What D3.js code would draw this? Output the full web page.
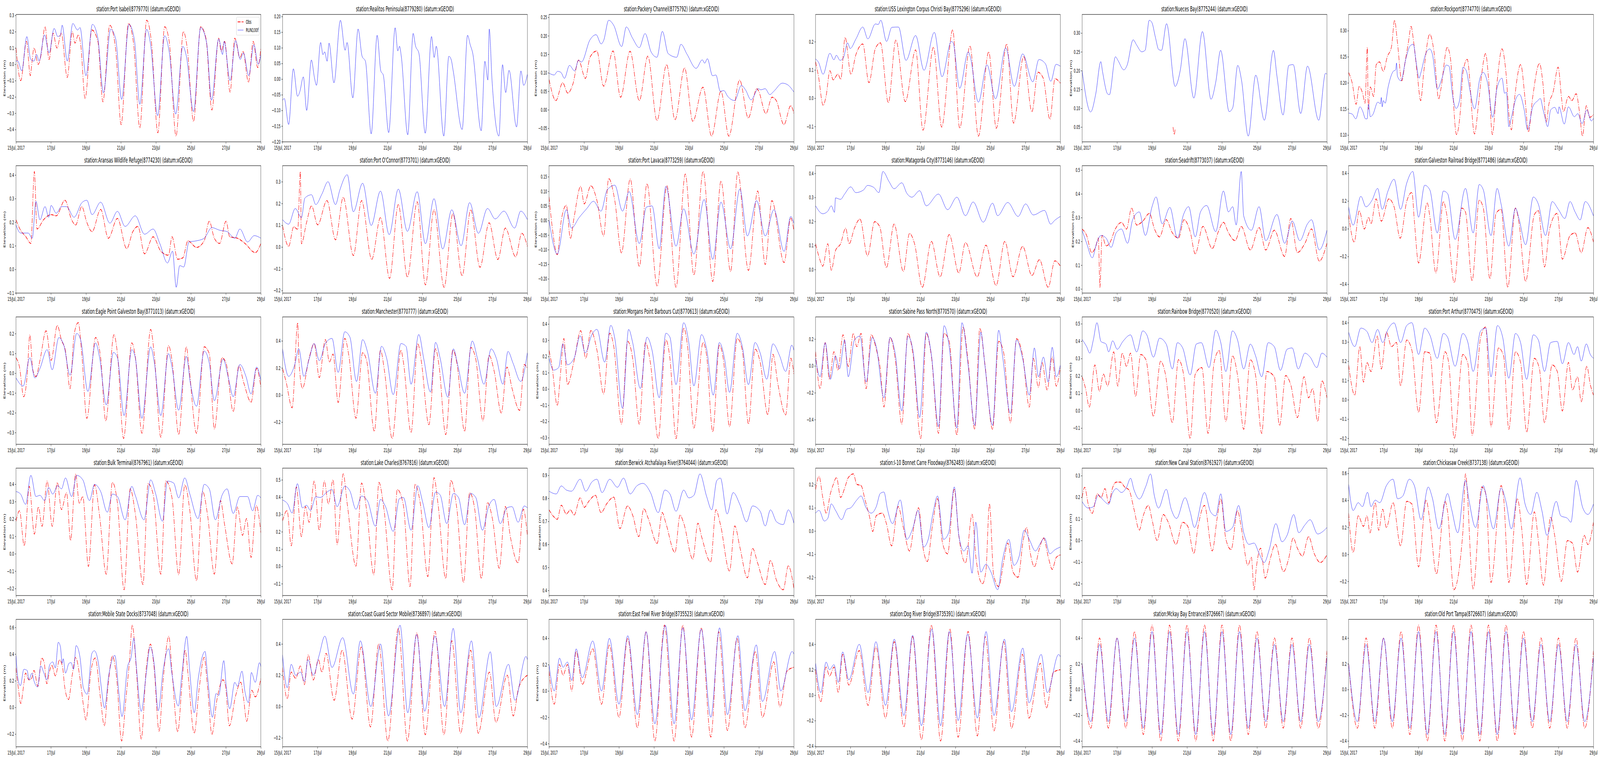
<!DOCTYPE html>
<html><head><meta charset="utf-8">
<script src="https://cdn.jsdelivr.net/npm/d3@7"></script>
<style>
html,body{margin:0;padding:0;background:#fff;overflow:hidden;width:100%;height:100%;}
#chart{position:absolute;left:0;top:0;display:block;width:100vw;height:100vh;}
svg text{font-family:"DejaVu Sans",sans-serif;fill:#000;}
</style></head><body>
<svg id="chart" viewBox="0 0 7800 1950" preserveAspectRatio="none"></svg>
<script>
// ---------------- data ----------------
const seriesNames = ["Obs", "RUN100f"];
const startDay = Date.UTC(2017, 6, 15);
const endDay = Date.UTC(2017, 6, 29);
const xTickDays = [0, 2, 4, 6, 8, 10, 12, 14];

const stationTitles = [
 "station:Port Isabel(8779770) (datum:xGEOID)",
 "station:Realitos Peninsula(8779280) (datum:xGEOID)",
 "station:Packery Channel(8775792) (datum:xGEOID)",
 "station:USS Lexington Corpus Christi Bay(8775296) (datum:xGEOID)",
 "station:Nueces Bay(8775244) (datum:xGEOID)",
 "station:Rockport(8774770) (datum:xGEOID)",
 "station:Aransas Wildlife Refuge(8774230) (datum:xGEOID)",
 "station:Port O'Connor(8773701) (datum:xGEOID)",
 "station:Port Lavaca(8773259) (datum:xGEOID)",
 "station:Matagorda City(8773146) (datum:xGEOID)",
 "station:Seadrift(8773037) (datum:xGEOID)",
 "station:Galveston Railroad Bridge(8771486) (datum:xGEOID)",
 "station:Eagle Point Galveston Bay(8771013) (datum:xGEOID)",
 "station:Manchester(8770777) (datum:xGEOID)",
 "station:Morgans Point Barbours Cut(8770613) (datum:xGEOID)",
 "station:Sabine Pass North(8770570) (datum:xGEOID)",
 "station:Rainbow Bridge(8770520) (datum:xGEOID)",
 "station:Port Arthur(8770475) (datum:xGEOID)",
 "station:Bulk Terminal(8767961) (datum:xGEOID)",
 "station:Lake Charles(8767816) (datum:xGEOID)",
 "station:Berwick Atchafalaya River(8764044) (datum:xGEOID)",
 "station:I-10 Bonnet Carre Floodway(8762483) (datum:xGEOID)",
 "station:New Canal Station(8761927) (datum:xGEOID)",
 "station:Chickasaw Creek(8737138) (datum:xGEOID)",
 "station:Mobile State Docks(8737048) (datum:xGEOID)",
 "station:Coast Guard Sector Mobile(8736897) (datum:xGEOID)",
 "station:East Fowl River Bridge(8735523) (datum:xGEOID)",
 "station:Dog River Bridge(8735391) (datum:xGEOID)",
 "station:Mckay Bay Entrance(8726667) (datum:xGEOID)",
 "station:Old Port Tampa(8726607) (datum:xGEOID)"
];
const yTickSteps = [0.1,0.05,0.05,0.1,0.05,0.05, 0.1,0.1,0.05,0.1,0.1,0.2, 0.1,0.2,0.1,0.2,0.1,0.1, 0.1,0.1,0.1,0.1,0.1,0.2, 0.2,0.2,0.2,0.2,0.2,0.2];

// [day since 15 Jul 2017, elevation m]
const obs_8779770 = [[0,0.10],[0.27,-0.10],[0.6,0.14],[0.82,-0.07],[0.9,0.0],[1.03,0.10],[1.27,0.0],[1.42,0.05],[1.66,0.23],[1.89,0.03],[2.12,0.19],[2.34,0.10],[2.59,0.19],[2.93,-0.08],[3.22,0.20],[3.37,0.13],[3.56,0.18],[3.7,0.12],[3.95,-0.21],[4.34,0.21],[4.68,0.14],[4.97,-0.23],[5.36,0.24],[5.70,0.09],[6.01,-0.37],[6.43,0.25],[6.72,0.13],[7.08,-0.39],[7.47,0.27],[7.74,0.14],[8.11,-0.42],[8.50,0.23],[8.76,0.14],[9.15,-0.44],[9.57,0.20],[9.79,0.10],[10.15,-0.35],[10.56,0.23],[10.86,0.16],[11.2,-0.28],[11.59,0.16],[11.73,0.08],[11.93,0.14],[12.24,-0.17],[12.51,0.16],[12.80,0.04],[12.98,0.08],[13.29,-0.11],[13.56,0.14],[13.82,-0.02],[14,0.10]];
const mod_8779770 = [[0,0.02],[0.1,0.02],[0.33,-0.04],[0.62,0.17],[0.84,0.03],[1.03,0.02],[1.18,0.06],[1.32,0.02],[1.63,0.18],[1.89,0.07],[2.18,0.22],[2.39,0.17],[2.54,0.18],[2.64,0.24],[2.93,0.02],[3.25,0.25],[3.52,0.21],[3.66,0.225],[4.0,-0.07],[4.37,0.245],[4.68,0.16],[5.0,-0.175],[5.41,0.215],[5.70,0.155],[6.04,-0.215],[6.46,0.245],[6.77,0.15],[7.08,-0.245],[7.47,0.215],[7.69,0.125],[8.10,-0.315],[8.50,0.175],[8.76,0.075],[9.13,-0.305],[9.54,0.11],[9.74,0.05],[10.15,-0.29],[10.56,0.225],[10.90,0.13],[11.18,-0.22],[11.59,0.155],[11.81,0.06],[11.9,0.14],[12.24,-0.10],[12.56,0.145],[12.82,0.03],[13.0,0.07],[13.31,-0.07],[13.6,0.12],[13.85,0.0],[14,0.06]];

const obs_8779280 = [];
const mod_8779280 = [[0,-0.068],[0.1,-0.062],[0.35,-0.145],[0.62,0.033],[0.86,-0.055],[0.99,-0.04],[1.19,0.007],[1.38,-0.10],[1.65,0.061],[1.83,0.003],[1.94,-0.02],[2.18,0.117],[2.31,0.078],[2.41,0.087],[2.55,0.057],[2.66,0.115],[2.94,-0.012],[3.31,0.188],[3.58,0.092],[3.69,0.117],[4.02,-0.06],[4.32,0.16],[4.55,0.073],[4.74,0.057],[5.07,-0.175],[5.41,0.14],[5.62,0.026],[5.76,0.013],[6.07,-0.171],[6.44,0.164],[6.59,0.09],[6.69,0.105],[6.79,0.073],[7.16,-0.178],[7.47,0.146],[7.60,0.107],[7.80,0.082],[8.16,-0.173],[8.52,0.136],[8.67,0.069],[8.79,0.105],[9.22,-0.182],[9.51,0.073],[9.64,0.063],[9.76,0.026],[10.27,-0.161],[10.58,0.14],[10.73,0.11],[10.87,0.084],[11.36,-0.165],[11.57,0.057],[11.74,-0.003],[11.82,0.16],[11.98,-0.005],[12.37,-0.182],[12.58,0.046],[12.76,-0.043],[12.95,0.028],[13.38,-0.153],[13.63,0.026],[13.79,-0.02],[14,0.015]];

const obs_8775792 = [[0,0.082],[0.39,0.025],[0.78,0.073],[1.07,0.045],[1.36,0.069],[1.69,0.134],[2.08,0.085],[2.34,0.142],[2.73,0.159],[3.12,0.064],[3.66,0.159],[4.09,0.034],[4.63,0.158],[5.16,0.025],[5.65,0.145],[6.17,-0.029],[6.72,0.122],[7.20,-0.027],[7.75,0.113],[8.22,-0.031],[8.80,0.061],[9.29,-0.071],[9.83,0.05],[10.28,-0.071],[10.90,0.08],[11.39,-0.022],[11.88,0.057],[11.97,0.052],[12.40,-0.01],[12.75,0.034],[12.99,0.025],[13.43,-0.04],[13.82,0.011],[14,-0.01]];
const mod_8775792 = [[0,0.099],[0.29,0.094],[0.49,0.104],[0.68,0.101],[0.88,0.085],[1.17,0.12],[1.46,0.105],[1.69,0.134],[1.85,0.129],[2.34,0.189],[2.69,0.203],[2.98,0.178],[3.12,0.187],[3.41,0.242],[3.70,0.228],[4.15,0.171],[4.42,0.224],[4.77,0.194],[5.16,0.168],[5.49,0.206],[5.84,0.156],[6.17,0.142],[6.48,0.212],[6.81,0.152],[7.30,0.142],[7.54,0.177],[7.89,0.15],[8.41,0.112],[8.76,0.135],[8.90,0.126],[9.05,0.138],[9.35,0.092],[9.54,0.094],[9.79,0.05],[9.99,0.052],[10.22,0.036],[10.61,0.025],[11.0,0.066],[11.23,0.054],[11.55,0.027],[11.97,0.057],[12.11,0.054],[12.36,0.057],[12.62,0.041],[12.85,0.05],[13.34,0.072],[13.63,0.068],[14,0.048]];

const obs_8775296 = [[0,0.129],[0.17,0.076],[0.43,-0.025],[0.60,0.007],[0.82,0.097],[1.01,0.065],[1.28,0.085],[1.44,0.067],[1.69,0.215],[2.02,0.085],[2.31,0.155],[2.70,0.192],[3.05,0.055],[3.42,0.176],[3.71,0.196],[4.16,-0.016],[4.59,0.206],[5.13,-0.012],[5.72,0.171],[6.14,-0.113],[6.74,0.18],[7.21,-0.102],[7.84,0.242],[8.24,-0.106],[8.83,0.185],[9.31,-0.134],[9.90,0.164],[10.33,-0.106],[10.93,0.192],[11.32,-0.088],[11.90,0.148],[12.37,-0.048],[12.71,0.092],[13.01,0.072],[13.40,-0.074],[13.69,0.069],[14,0.053]];
const mod_8775296 = [[0,0.139],[0.17,0.127],[0.43,0.085],[0.82,0.159],[1.05,0.136],[1.19,0.152],[1.40,0.134],[1.59,0.143],[1.83,0.196],[1.98,0.176],[2.31,0.21],[2.70,0.252],[2.99,0.21],[3.42,0.263],[3.58,0.261],[3.73,0.276],[4.06,0.201],[4.36,0.251],[4.74,0.252],[5.17,0.134],[5.72,0.222],[6.20,0.099],[6.79,0.233],[7.23,0.076],[7.76,0.201],[7.86,0.197],[8.24,0.035],[8.73,0.164],[8.83,0.15],[9.31,-0.014],[9.80,0.118],[10.29,-0.002],[10.87,0.178],[11.36,0.042],[11.84,0.157],[12.42,0.058],[12.77,0.137],[13.14,0.122],[13.45,0.06],[13.75,0.12],[14,0.113]];

const obs_8775244 = [[5.2,0.05],[5.27,0.03],[5.32,0.045]];
const mod_8775244 = [[0,0.20],[0.49,0.09],[0.78,0.138],[1.07,0.224],[1.17,0.197],[1.46,0.138],[1.56,0.136],[1.91,0.237],[2.04,0.228],[2.39,0.202],[2.57,0.214],[2.92,0.282],[3.12,0.268],[3.41,0.25],[3.60,0.254],[3.84,0.334],[3.99,0.328],[4.19,0.289],[4.38,0.256],[4.54,0.254],[4.83,0.325],[5.32,0.158],[5.61,0.20],[5.88,0.285],[6.39,0.127],[6.88,0.304],[7.37,0.124],[7.64,0.169],[7.92,0.254],[8.41,0.091],[8.61,0.101],[8.90,0.214],[9.11,0.176],[9.50,0.026],[9.93,0.188],[10.42,0.068],[10.94,0.254],[11.14,0.186],[11.49,0.082],[11.82,0.214],[12.07,0.216],[12.50,0.086],[12.89,0.212],[13.53,0.068],[13.92,0.193],[14,0.19]];

const obs_8774770 = [[0,0.22],[0.21,0.199],[0.43,0.159],[0.60,0.193],[0.80,0.18],[0.94,0.161],[1.07,0.268],[1.12,0.149],[1.24,0.192],[1.43,0.174],[1.58,0.235],[1.77,0.24],[1.98,0.222],[2.21,0.25],[2.45,0.269],[2.63,0.32],[2.79,0.278],[3.04,0.204],[3.23,0.24],[3.42,0.278],[3.57,0.308],[3.72,0.278],[3.93,0.215],[4.12,0.166],[4.30,0.222],[4.64,0.293],[4.88,0.26],[5.15,0.169],[5.27,0.187],[5.64,0.268],[5.81,0.25],[6.17,0.101],[6.39,0.146],[6.54,0.22],[6.78,0.245],[7.20,0.102],[7.41,0.154],[7.61,0.217],[7.83,0.256],[8.00,0.209],[8.22,0.101],[8.48,0.199],[8.77,0.265],[8.99,0.222],[9.21,0.124],[9.31,0.11],[9.46,0.161],[9.84,0.235],[10.09,0.169],[10.28,0.106],[10.53,0.174],[10.91,0.237],[11.11,0.199],[11.30,0.125],[11.45,0.159],[11.69,0.182],[11.98,0.23],[12.18,0.169],[12.28,0.145],[12.57,0.174],[12.76,0.166],[13.01,0.179],[13.20,0.144],[13.37,0.098],[13.59,0.156],[13.78,0.134],[14,0.139]];
const mod_8774770 = [[0,0.142],[0.21,0.14],[0.41,0.131],[0.65,0.154],[0.80,0.146],[0.97,0.131],[1.06,0.131],[1.14,0.159],[1.24,0.135],[1.38,0.139],[1.67,0.163],[1.82,0.16],[1.87,0.172],[1.92,0.154],[1.99,0.166],[2.09,0.161],[2.26,0.192],[2.55,0.222],[2.69,0.225],[2.74,0.238],[2.79,0.213],[2.99,0.204],[3.28,0.247],[3.52,0.271],[3.70,0.274],[3.86,0.24],[4.03,0.209],[4.12,0.218],[4.40,0.255],[4.64,0.265],[4.79,0.255],[5.08,0.188],[5.32,0.207],[5.58,0.234],[5.74,0.232],[5.95,0.174],[6.15,0.151],[6.34,0.166],[6.54,0.23],[6.73,0.223],[6.93,0.187],[7.20,0.15],[7.51,0.209],[7.70,0.22],[7.95,0.199],[8.24,0.134],[8.48,0.189],[8.77,0.209],[8.92,0.18],[9.02,0.182],[9.16,0.116],[9.31,0.134],[9.55,0.168],[9.77,0.178],[10.04,0.148],[10.23,0.11],[10.53,0.154],[10.82,0.166],[10.96,0.17],[11.11,0.15],[11.21,0.136],[11.38,0.116],[11.55,0.148],[11.79,0.153],[11.98,0.141],[12.03,0.154],[12.33,0.121],[12.57,0.154],[12.91,0.135],[13.10,0.141],[13.35,0.122],[13.62,0.148],[13.88,0.127],[14,0.132]];

const obs_8774230 = [[0,0.21],[0.26,0.166],[0.55,0.14],[0.85,0.11],[1.05,0.415],[1.2,0.171],[1.57,0.21],[2.01,0.232],[2.30,0.227],[2.80,0.293],[3.18,0.21],[3.41,0.188],[3.76,0.266],[4.05,0.199],[4.35,0.16],[4.84,0.254],[5.28,0.132],[5.80,0.216],[6.33,0.088],[6.68,0.16],[6.97,0.182],[7.35,0.066],[7.84,0.138],[8.28,0.077],[8.72,0.06],[8.92,0.138],[9.24,0.043],[9.54,0.049],[9.83,0.121],[10.32,0.093],[10.76,0.121],[11.05,0.204],[11.34,0.132],[11.64,0.11],[12.01,0.204],[12.22,0.138],[12.66,0.132],[13.09,0.11],[13.68,0.071],[14,0.11]];
const mod_8774230 = [[0,0.188],[0.26,0.154],[0.70,0.154],[0.93,0.132],[1.14,0.288],[1.37,0.21],[1.66,0.266],[1.87,0.221],[2.01,0.271],[2.30,0.238],[2.60,0.266],[2.89,0.266],[3.32,0.221],[3.76,0.282],[4.05,0.293],[4.35,0.232],[4.84,0.285],[5.37,0.196],[5.80,0.246],[6.24,0.182],[6.82,0.227],[7.35,0.149],[7.84,0.171],[8.22,0.11],[8.66,0.027],[8.95,0.077],[9.16,-0.076],[9.36,0.016],[9.59,0.01],[9.89,0.116],[10.32,0.121],[10.76,0.132],[11.20,0.177],[11.64,0.166],[12.07,0.16],[12.51,0.132],[12.80,0.171],[13.24,0.116],[13.62,0.143],[14,0.132]];

const obs_8773701 = [[0,0.099],[0.35,0.003],[0.64,0.093],[0.87,0.081],[1.02,0.347],[1.08,0.015],[1.37,0.111],[1.66,0.189],[2.01,0.102],[2.54,0.213],[3.03,0.033],[3.47,0.228],[4.05,-0.039],[4.52,0.213],[5.10,-0.057],[5.60,0.135],[6.12,-0.144],[6.62,0.195],[7.14,-0.138],[7.70,0.207],[8.17,-0.174],[8.66,0.171],[9.24,-0.185],[9.74,0.153],[10.27,-0.132],[10.76,0.171],[11.29,-0.093],[11.81,0.111],[12.31,-0.057],[12.74,0.087],[13.33,-0.045],[13.68,0.063],[14,0.003]];
const mod_8773701 = [[0,0.126],[0.35,0.105],[0.73,0.177],[1.08,0.135],[1.28,0.225],[1.66,0.24],[1.90,0.195],[2.25,0.243],[2.60,0.30],[3.03,0.195],[3.27,0.26],[3.70,0.332],[4.05,0.162],[4.58,0.293],[5.07,0.099],[5.60,0.257],[6.10,0.057],[6.62,0.266],[7.14,0.072],[7.70,0.254],[8.17,0.015],[8.66,0.222],[9.16,-0.009],[9.68,0.171],[10.21,0.006],[10.70,0.204],[11.20,0.063],[11.72,0.177],[12.16,0.129],[12.66,0.165],[13.27,0.087],[13.62,0.165],[14,0.126]];

const obs_8773259 = [[0,0.081],[0.17,-0.017],[0.47,-0.117],[0.70,0.001],[0.99,0.052],[1.22,-0.062],[1.43,0.01],[1.81,0.117],[2.01,0.057],[2.39,0.119],[2.74,0.068],[3.12,-0.053],[3.41,0.144],[3.76,0.068],[4.14,-0.111],[4.64,0.142],[5.16,-0.158],[5.60,0.126],[6.18,-0.225],[6.74,0.119],[7.26,-0.229],[7.79,0.159],[8.28,-0.187],[8.81,0.168],[9.36,-0.209],[9.83,0.135],[10.38,-0.175],[10.79,0.166],[11.40,-0.171],[11.93,0.101],[12.36,-0.151],[12.74,0.068],[13.44,-0.144],[13.82,0.008],[14,-0.035]];
const mod_8773259 = [[0,0.001],[0.47,-0.115],[0.99,0.037],[1.28,-0.026],[1.72,0.01],[2.16,0.041],[2.54,0.066],[2.97,0.032],[3.32,0.104],[3.76,0.121],[4.20,0.032],[4.58,0.099],[5.16,-0.079],[5.57,0.046],[5.89,0.05],[6.30,-0.097],[6.68,0.117],[7.26,-0.088],[7.70,0.04],[8.28,-0.115],[8.87,0.072],[9.36,-0.133],[9.83,0.063],[10.38,-0.097],[10.91,0.108],[11.34,-0.053],[11.87,0.068],[12.36,-0.053],[12.86,0.037],[13.44,-0.106],[13.82,0.014],[14,-0.01]];

const obs_8773146 = [[0,0.107],[0.20,0.052],[0.41,0.014],[0.70,0.107],[0.90,-0.003],[1.14,0.079],[1.43,0.107],[1.72,0.172],[1.92,0.107],[2.22,0.172],[2.54,0.21],[2.97,0.057],[3.38,0.199],[3.67,0.178],[4.05,0.008],[4.49,0.189],[5.02,-0.008],[5.37,0.15],[5.66,0.107],[6.10,-0.074],[6.62,0.117],[7.12,-0.03],[7.64,0.145],[8.19,-0.014],[8.57,0.112],[9.24,-0.03],[9.74,0.101],[10.32,-0.066],[10.82,0.117],[11.29,-0.03],[11.84,0.096],[12.37,-0.025],[12.80,0.041],[13.30,-0.074],[13.68,0.036],[14,0.014]];
const mod_8773146 = [[0,0.265],[0.41,0.232],[0.70,0.243],[0.90,0.265],[1.08,0.238],[1.14,0.298],[1.43,0.292],[1.66,0.314],[2.01,0.344],[2.30,0.32],[2.74,0.331],[2.97,0.35],[3.32,0.342],[3.62,0.32],[3.85,0.408],[4.20,0.366],[4.49,0.336],[4.93,0.361],[5.22,0.317],[5.51,0.301],[5.95,0.328],[6.33,0.265],[7.03,0.314],[7.55,0.249],[8.08,0.301],[8.57,0.224],[9.01,0.281],[9.59,0.197],[10.12,0.276],[10.41,0.224],[10.99,0.279],[11.58,0.221],[12.01,0.273],[12.45,0.227],[13.09,0.246],[13.44,0.189],[13.68,0.205],[14,0.221]];

const obs_8773037 = [[0,0.252],[0.26,0.225],[0.55,0.153],[0.79,0.181],[0.93,0.214],[1.02,0.007],[1.14,0.225],[1.37,0.181],[1.57,0.192],[1.90,0.252],[2.25,0.28],[2.54,0.252],[2.83,0.34],[3.12,0.269],[3.47,0.285],[3.85,0.318],[4.14,0.252],[4.43,0.219],[4.81,0.291],[5.16,0.236],[5.51,0.214],[5.83,0.291],[6.18,0.241],[6.47,0.148],[6.91,0.263],[7.44,0.17],[7.79,0.241],[8.08,0.28],[8.37,0.236],[8.75,0.203],[9.10,0.263],[9.62,0.164],[10.12,0.258],[10.50,0.164],[10.99,0.247],[11.58,0.137],[11.93,0.296],[12.31,0.153],[12.74,0.192],[13.12,0.252],[13.56,0.117],[14,0.192]];
const mod_8773037 = [[0,0.247],[0.26,0.192],[0.58,0.131],[0.85,0.197],[1.08,0.225],[1.37,0.214],[1.66,0.175],[1.95,0.236],[2.25,0.252],[2.60,0.192],[2.89,0.291],[3.27,0.324],[3.62,0.225],[4.00,0.346],[4.23,0.387],[4.58,0.274],[5.02,0.343],[5.45,0.214],[5.80,0.313],[6.09,0.346],[6.47,0.219],[6.77,0.324],[7.12,0.351],[7.64,0.241],[8.08,0.412],[8.37,0.324],[8.61,0.346],[8.81,0.269],[9.10,0.494],[9.24,0.307],[9.68,0.247],[10.12,0.346],[10.50,0.203],[11.14,0.313],[11.58,0.192],[12.02,0.285],[12.45,0.203],[12.89,0.274],[13.12,0.291],[13.56,0.164],[14,0.247]];

const obs_8771486 = [[0,0.102],[0.32,-0.096],[0.61,0.13],[0.90,-0.002],[1.14,0.083],[1.28,0.036],[1.57,0.215],[1.87,0.055],[2.30,0.215],[2.60,0.158],[2.95,-0.068],[3.32,0.196],[3.62,0.262],[3.76,0.055],[4.00,-0.247],[4.49,0.187],[4.64,0.092],[4.99,-0.318],[5.42,0.196],[5.60,0.111],[6.04,-0.389],[6.47,0.149],[6.68,0.121],[7.06,-0.375],[7.47,0.206],[7.70,0.149],[8.08,-0.36],[8.43,0.111],[8.72,0.14],[9.10,-0.422],[9.54,0.149],[9.74,0.045],[10.12,-0.379],[10.62,0.102],[10.85,0.13],[11.20,-0.275],[11.49,-0.002],[11.93,0.111],[12.22,-0.219],[12.66,-0.049],[12.95,-0.03],[13.30,-0.172],[13.68,0.008],[14,-0.096]];
const mod_8771486 = [[0,0.158],[0.26,0.026],[0.70,0.234],[0.99,0.158],[1.34,0.206],[1.66,0.291],[1.92,0.14],[2.25,0.272],[2.60,0.357],[2.97,0.14],[3.32,0.328],[3.67,0.413],[4.00,0.083],[4.35,0.314],[4.64,0.281],[5.07,-0.03],[5.42,0.272],[5.66,0.253],[6.09,-0.077],[6.68,0.291],[7.12,-0.03],[7.47,0.319],[7.70,0.281],[8.14,-0.049],[8.49,0.291],[8.72,0.177],[9.16,-0.125],[9.54,0.149],[9.74,0.074],[10.12,-0.115],[10.56,0.229],[10.85,0.177],[11.26,-0.049],[11.64,0.196],[11.99,0.14],[12.36,0.074],[12.66,0.196],[12.95,0.121],[13.24,0.064],[13.53,0.196],[14,0.092]];

const obs_8771013 = [[0,0.078],[0.20,0.031],[0.44,-0.119],[0.64,-0.01],[0.79,0.194],[0.96,0.017],[1.14,-0.017],[1.37,0.065],[1.72,0.214],[2.01,0.065],[2.36,0.241],[2.60,0.167],[2.83,0.112],[3.09,-0.078],[3.32,0.194],[3.56,0.255],[3.76,0.099],[4.05,-0.228],[4.55,0.18],[4.84,0.078],[5.13,-0.241],[5.60,0.194],[5.80,0.099],[6.15,-0.33],[6.62,0.153],[6.82,0.085],[7.20,-0.303],[7.70,0.221],[7.90,0.099],[8.28,-0.323],[8.72,0.139],[8.92,0.065],[9.30,-0.31],[9.74,0.133],[9.89,0.031],[10.32,-0.303],[10.76,0.133],[11.05,0.099],[11.34,-0.282],[11.78,0.078],[12.01,0.051],[12.42,-0.194],[12.74,0.037],[13.03,-0.051],[13.44,-0.146],[13.76,0.024],[14,-0.071]];
const mod_8771013 = [[0,-0.024],[0.41,-0.065],[0.79,0.078],[1.08,-0.024],[1.37,0.024],[1.78,0.119],[2.07,0.017],[2.45,0.18],[2.74,0.139],[3.09,-0.01],[3.47,0.201],[3.70,0.167],[4.11,-0.092],[4.55,0.153],[4.78,0.078],[5.16,-0.16],[5.57,0.105],[5.80,0.078],[6.18,-0.214],[6.62,0.119],[6.82,0.078],[7.20,-0.228],[7.70,0.133],[7.90,0.058],[8.28,-0.214],[8.72,0.099],[8.92,0.031],[9.30,-0.187],[9.74,0.085],[9.97,-0.051],[10.32,-0.167],[10.76,0.112],[11.05,0.051],[11.34,-0.139],[11.84,0.071],[12.16,-0.031],[12.42,-0.119],[12.80,0.044],[13.15,-0.017],[13.44,-0.105],[13.76,0.031],[14,-0.037]];

const obs_8770777 = [[0,0.196],[0.20,0.1],[0.55,-0.094],[0.87,0.534],[0.93,0.273],[1.14,0.051],[1.52,0.273],[1.81,0.38],[2.10,0.129],[2.45,0.409],[2.68,0.244],[2.89,0.302],[3.18,-0.055],[3.56,0.418],[3.79,0.293],[4.20,-0.171],[4.58,0.312],[4.81,0.254],[5.25,-0.268],[5.60,0.331],[5.83,0.177],[6.27,-0.321],[6.77,0.331],[6.91,0.244],[7.35,-0.277],[7.73,0.38],[7.93,0.254],[8.37,-0.219],[8.75,0.341],[8.95,0.215],[9.33,-0.292],[9.74,0.331],[9.97,0.235],[10.41,-0.268],[10.76,0.351],[11.05,0.264],[11.46,-0.19],[11.81,0.293],[12.10,0.177],[12.51,-0.132],[12.83,0.206],[13.12,0.051],[13.56,-0.113],[13.82,0.225],[14,0.196]];
const mod_8770777 = [[0,0.341],[0.35,0.138],[0.70,0.225],[0.93,0.341],[1.22,0.138],[1.52,0.264],[1.81,0.38],[2.10,0.254],[2.45,0.38],[2.83,0.418],[3.18,0.167],[3.56,0.467],[3.85,0.428],[4.23,0.1],[4.58,0.409],[4.87,0.312],[5.31,0.013],[5.66,0.36],[5.95,0.273],[6.33,0.003],[6.77,0.38],[7.06,0.36],[7.35,0.08],[7.79,0.447],[8.08,0.264],[8.46,0.022],[8.75,0.389],[9.01,0.273],[9.45,-0.016],[9.77,0.341],[10.03,0.215],[10.41,0.013],[10.85,0.399],[11.14,0.273],[11.52,0.08],[11.93,0.341],[12.22,0.273],[12.60,0.08],[12.89,0.322],[13.18,0.235],[13.62,0.1],[14,0.312]];

const obs_8770613 = [[0,0.238],[0.17,0.14],[0.47,-0.102],[0.64,0.076],[0.85,0.311],[1.05,0.027],[1.43,0.173],[1.81,0.359],[2.10,0.189],[2.39,0.359],[2.74,0.238],[3.12,-0.03],[3.47,0.343],[3.70,0.262],[4.14,-0.216],[4.49,0.294],[4.78,0.189],[5.16,-0.216],[5.51,0.286],[5.80,0.157],[6.24,-0.305],[6.68,0.302],[6.91,0.189],[7.26,-0.305],[7.70,0.375],[7.93,0.254],[8.28,-0.24],[8.81,0.286],[9.01,0.205],[9.36,-0.264],[9.74,0.27],[9.97,0.181],[10.32,-0.232],[10.76,0.311],[11.05,0.238],[11.40,-0.216],[11.78,0.246],[12.07,0.165],[12.51,-0.159],[12.80,0.213],[13.09,0.027],[13.53,-0.159],[13.82,0.189],[14,0.092]];
const mod_8770613 = [[0,0.189],[0.26,0.116],[0.55,0.132],[0.79,0.278],[1.05,0.149],[1.43,0.189],[1.78,0.327],[2.07,0.222],[2.45,0.335],[2.74,0.367],[3.18,0.165],[3.53,0.392],[3.76,0.311],[4.20,-0.119],[4.55,0.367],[4.78,0.286],[5.22,0.003],[5.60,0.319],[5.89,0.238],[6.30,-0.054],[6.68,0.343],[6.91,0.319],[7.26,0.027],[7.70,0.408],[7.99,0.286],[8.28,0.019],[8.72,0.335],[9.01,0.246],[9.39,-0.038],[9.74,0.286],[10.03,0.189],[10.32,-0.021],[10.76,0.343],[11.05,0.262],[11.40,0.027],[11.78,0.286],[12.07,0.222],[12.45,0.06],[12.80,0.278],[13.18,0.205],[13.53,0.108],[13.88,0.27],[14,0.238]];

const obs_8770570 = [[0,0.105],[0.26,-0.169],[0.55,0.173],[0.79,-0.10],[1.05,0.105],[1.28,-0.032],[1.57,0.232],[1.87,-0.003],[2.16,0.242],[2.36,0.144],[2.60,0.242],[2.89,-0.169],[3.18,0.232],[3.47,0.124],[3.70,-0.022],[3.91,-0.306],[4.26,0.212],[4.55,0.056],[4.93,-0.433],[5.28,0.242],[5.57,0.085],[6.01,-0.541],[6.33,0.242],[6.62,0.075],[7.03,-0.502],[7.35,0.242],[7.64,0.183],[8.08,-0.516],[8.43,0.29],[8.72,0.036],[9.10,-0.472],[9.39,0.281],[9.68,0.017],[10.12,-0.472],[10.47,0.183],[10.76,0.095],[11.14,-0.423],[11.49,0.202],[11.84,0.075],[12.22,-0.306],[12.45,0.056],[12.74,-0.159],[12.95,0.026],[13.24,-0.179],[13.53,0.066],[13.76,-0.15],[14,-0.003]];
const mod_8770570 = [[0,0.056],[0.26,-0.081],[0.55,0.173],[0.85,-0.10],[1.14,0.075],[1.37,-0.022],[1.66,0.193],[1.87,-0.081],[2.22,0.193],[2.54,0.222],[2.89,-0.12],[3.24,0.212],[3.47,0.144],[3.91,-0.238],[4.26,0.212],[4.55,0.095],[4.93,-0.335],[5.28,0.222],[5.57,0.114],[5.95,-0.384],[6.33,0.251],[6.62,0.085],[7.03,-0.453],[7.35,0.30],[7.64,0.144],[8.08,-0.463],[8.37,0.322],[8.72,0.007],[9.10,-0.443],[9.45,0.251],[9.68,0.007],[10.12,-0.443],[10.47,0.266],[10.70,0.066],[11.14,-0.355],[11.49,0.193],[11.84,0.056],[12.22,-0.218],[12.51,0.134],[12.74,-0.081],[13.03,0.066],[13.30,-0.12],[13.53,0.139],[13.76,-0.081],[14,0.007]];

const obs_8770520 = [[0,0.195],[0.20,0.127],[0.41,0.021],[0.73,0.263],[0.99,0.112],[1.22,0.21],[1.46,0.142],[1.81,0.338],[2.04,0.142],[2.30,0.331],[2.54,0.255],[2.77,0.331],[3.06,0.082],[3.35,0.323],[3.65,0.293],[4.08,-0.032],[4.49,0.285],[4.75,0.217],[5.16,-0.069],[5.51,0.293],[5.80,0.21],[6.18,-0.16],[6.47,0.21],[6.85,0.248],[7.20,-0.13],[7.55,0.278],[7.84,0.346],[8.22,-0.062],[8.60,0.315],[8.89,0.202],[9.24,-0.107],[9.62,0.293],[9.92,0.202],[10.27,-0.13],[10.56,0.225],[10.99,0.195],[11.29,-0.085],[11.64,0.202],[11.93,0.149],[12.31,-0.039],[12.69,0.195],[12.95,0.074],[13.18,0.127],[13.47,-0.062],[13.71,0.172],[14,0.074]];
const mod_8770520 = [[0,0.41],[0.26,0.368],[0.44,0.331],[0.64,0.406],[0.85,0.506],[1.08,0.398],[1.37,0.383],[1.52,0.338],[1.75,0.402],[2.01,0.353],[2.33,0.398],[2.77,0.436],[3.12,0.338],[3.47,0.459],[3.70,0.436],[4.08,0.308],[4.43,0.417],[4.81,0.383],[5.16,0.24],[5.45,0.391],[5.75,0.361],[6.18,0.206],[6.53,0.383],[6.82,0.391],[7.26,0.248],[7.64,0.463],[7.93,0.391],[8.22,0.225],[8.60,0.459],[8.89,0.406],[9.24,0.24],[9.62,0.383],[9.92,0.315],[10.27,0.195],[10.64,0.391],[10.99,0.368],[11.34,0.232],[11.72,0.353],[12.01,0.361],[12.36,0.24],[12.74,0.331],[13.04,0.308],[13.42,0.248],[13.71,0.331],[14,0.308]];

const obs_8770475 = [[0,0.181],[0.35,0.024],[0.64,0.276],[0.85,0.092],[1.05,0.194],[1.28,0.147],[1.63,0.331],[1.87,0.16],[2.16,0.351],[2.45,0.276],[2.74,0.297],[2.97,0.072],[3.32,0.31],[3.62,0.256],[4.00,-0.065],[4.35,0.249],[4.64,0.242],[5.02,-0.119],[5.51,0.249],[5.72,0.194],[6.04,-0.201],[6.53,0.235],[6.82,0.187],[7.06,-0.184],[7.55,0.324],[7.84,0.378],[8.14,-0.14],[8.57,0.269],[8.86,0.228],[9.16,-0.153],[9.54,0.249],[9.83,0.194],[10.18,-0.167],[10.62,0.215],[10.91,0.16],[11.20,-0.119],[11.64,0.181],[11.93,0.147],[12.22,-0.058],[12.57,0.194],[12.80,0.051],[13.09,0.119],[13.30,-0.01],[13.62,0.174],[13.82,0.078],[14,0.024]];
const mod_8770475 = [[0,0.351],[0.35,0.276],[0.70,0.372],[1.05,0.354],[1.34,0.297],[1.66,0.365],[1.95,0.297],[2.25,0.365],[2.60,0.399],[2.97,0.297],[3.32,0.385],[3.62,0.40],[4.00,0.235],[4.35,0.372],[4.64,0.337],[5.07,0.215],[5.42,0.344],[5.66,0.324],[6.09,0.174],[6.53,0.344],[6.82,0.297],[7.12,0.147],[7.55,0.358],[7.84,0.372],[8.14,0.119],[8.51,0.385],[8.81,0.324],[9.16,0.112],[9.54,0.344],[9.83,0.297],[10.18,0.106],[10.56,0.337],[10.85,0.31],[11.20,0.147],[11.55,0.297],[11.93,0.303],[12.22,0.187],[12.57,0.297],[12.89,0.235],[13.09,0.276],[13.30,0.201],[13.59,0.29],[13.82,0.235],[14,0.215]];

const obs_8767961 = [[0,0.187],[0.20,0.247],[0.47,0.046],[0.76,0.388],[1.05,0.113],[1.28,0.269],[1.49,0.158],[1.78,0.418],[2.07,0.158],[2.36,0.41],[2.60,0.254],[2.89,0.351],[3.12,0.076],[3.41,0.459],[3.62,0.291],[3.82,0.329],[4.14,-0.073],[4.49,0.396],[4.78,0.217],[5.16,-0.117],[5.51,0.41],[5.80,0.291],[6.18,-0.207],[6.53,0.373],[6.82,0.232],[7.26,-0.177],[7.55,0.403],[7.84,0.343],[8.28,-0.117],[8.57,0.418],[8.92,0.321],[9.30,-0.121],[9.65,0.396],[9.94,0.247],[10.32,-0.155],[10.67,0.358],[10.96,0.217],[11.34,-0.117],[11.69,0.306],[11.93,0.165],[12.36,-0.058],[12.66,0.269],[12.95,0.106],[13.18,0.202],[13.44,-0.021],[13.74,0.277],[14,0.12]];
const mod_8767961 = [[0,0.358],[0.26,0.343],[0.55,0.284],[0.85,0.451],[1.14,0.329],[1.37,0.336],[1.63,0.306],[1.87,0.381],[2.10,0.343],[2.39,0.392],[2.60,0.373],[2.83,0.436],[3.18,0.329],[3.47,0.451],[3.82,0.425],[4.20,0.306],[4.49,0.399],[4.84,0.358],[5.22,0.239],[5.51,0.343],[5.80,0.329],[6.24,0.195],[6.62,0.388],[6.82,0.336],[7.32,0.195],[7.70,0.425],[7.99,0.343],[8.37,0.187],[8.66,0.418],[9.01,0.407],[9.30,0.321],[9.65,0.436],[9.94,0.343],[10.41,0.202],[10.76,0.399],[11.05,0.373],[11.40,0.195],[11.78,0.336],[12.07,0.373],[12.42,0.232],[12.80,0.329],[13.24,0.329],[13.53,0.247],[13.82,0.336],[14,0.321]];

const obs_8767816 = [[0,0.262],[0.26,0.323],[0.50,0.119],[0.79,0.459],[1.08,0.172],[1.31,0.345],[1.52,0.255],[1.81,0.493],[2.10,0.209],[2.39,0.493],[2.62,0.361],[2.89,0.50],[3.12,0.126],[3.47,0.534],[3.70,0.361],[4.20,0.002],[4.52,0.481],[4.81,0.323],[5.22,-0.048],[5.51,0.485],[5.80,0.33],[6.27,-0.135],[6.56,0.444],[6.91,0.353],[7.29,-0.116],[7.58,0.474],[7.87,0.368],[8.31,-0.059],[8.66,0.512],[8.89,0.361],[9.33,-0.07],[9.62,0.497],[9.97,0.33],[10.35,-0.093],[10.70,0.425],[10.99,0.33],[11.37,-0.07],[11.72,0.368],[12.01,0.27],[12.39,-0.01],[12.74,0.345],[13.04,0.164],[13.47,0.02],[13.77,0.33],[14,0.179]];
const mod_8767816 = [[0,0.383],[0.29,0.361],[0.55,0.308],[0.85,0.478],[1.14,0.338],[1.37,0.353],[1.60,0.323],[1.90,0.402],[2.16,0.398],[2.54,0.429],[2.83,0.444],[3.12,0.345],[3.56,0.463],[3.85,0.436],[4.20,0.33],[4.52,0.406],[4.87,0.376],[5.31,0.232],[5.60,0.387],[5.89,0.345],[6.33,0.202],[6.68,0.391],[6.91,0.398],[7.35,0.209],[7.73,0.466],[8.02,0.368],[8.37,0.224],[8.75,0.429],[9.01,0.413],[9.39,0.247],[9.77,0.421],[10.06,0.398],[10.41,0.24],[10.76,0.421],[11.05,0.398],[11.43,0.209],[11.78,0.345],[12.10,0.387],[12.45,0.247],[12.83,0.338],[13.12,0.345],[13.47,0.255],[13.82,0.349],[14,0.338]];

const obs_8764044 = [[0,0.75],[0.26,0.721],[0.47,0.709],[0.70,0.77],[0.99,0.732],[1.22,0.75],[1.43,0.727],[1.78,0.802],[2.01,0.761],[2.30,0.79],[2.65,0.813],[2.97,0.738],[3.32,0.779],[3.70,0.805],[4.05,0.669],[4.49,0.767],[4.78,0.727],[5.13,0.634],[5.42,0.755],[5.66,0.715],[6.18,0.605],[6.47,0.738],[6.68,0.692],[7.20,0.565],[7.49,0.727],[7.70,0.692],[8.22,0.536],[8.51,0.692],[8.72,0.634],[9.24,0.524],[9.54,0.75],[9.80,0.686],[10.32,0.484],[10.62,0.68],[10.91,0.588],[11.34,0.455],[11.64,0.582],[11.93,0.518],[12.36,0.426],[12.66,0.53],[13.01,0.443],[13.39,0.403],[13.68,0.507],[14,0.409]];
const mod_8764044 = [[0,0.831],[0.41,0.819],[0.70,0.854],[0.99,0.836],[1.28,0.831],[1.78,0.883],[2.10,0.831],[2.45,0.871],[2.74,0.883],[3.03,0.825],[3.47,0.883],[3.91,0.848],[4.26,0.888],[4.64,0.819],[5.02,0.854],[5.37,0.865],[5.80,0.825],[6.24,0.738],[6.62,0.836],[6.91,0.819],[7.26,0.744],[7.70,0.836],[7.99,0.802],[8.28,0.813],[8.63,0.906],[9.01,0.808],[9.30,0.75],[9.59,0.877],[9.80,0.888],[10.18,0.732],[10.53,0.825],[10.91,0.773],[11.29,0.698],[11.64,0.767],[12.07,0.744],[12.36,0.68],[12.66,0.75],[13.01,0.698],[13.39,0.686],[13.68,0.75],[14,0.692]];

const obs_8762483 = [[0,0.179],[0.20,0.235],[0.41,0.145],[0.61,0.077],[0.85,0.162],[0.99,0.196],[1.20,0.23],[1.43,0.145],[1.66,0.184],[1.87,0.23],[2.16,0.246],[2.36,0.201],[2.60,0.196],[2.83,0.134],[3.09,0.06],[3.27,-0.002],[3.47,0.066],[3.82,0.077],[4.05,0.032],[4.35,-0.064],[4.72,0.105],[5.02,0.015],[5.37,-0.086],[5.66,0.038],[5.89,0.10],[6.15,-0.075],[6.39,-0.131],[6.68,0.021],[6.97,0.139],[7.26,-0.052],[7.55,-0.098],[7.93,0.179],[8.19,-0.019],[8.57,-0.137],[8.95,0.072],[9.16,-0.109],[9.54,-0.227],[9.74,-0.171],[9.94,0.117],[10.18,-0.188],[10.47,-0.239],[10.76,-0.131],[10.99,-0.052],[11.29,-0.177],[11.58,-0.199],[11.87,-0.041],[12.07,0.015],[12.27,-0.092],[12.51,-0.154],[12.80,-0.075],[13.03,-0.03],[13.33,-0.12],[13.53,-0.165],[13.76,-0.114],[14,-0.103]];
const mod_8762483 = [[0,0.077],[0.20,0.089],[0.50,0.043],[0.70,0.055],[0.90,0.117],[1.14,0.089],[1.49,0.049],[1.78,0.094],[2.01,0.10],[2.36,0.134],[2.60,0.151],[2.89,0.10],[3.18,0.077],[3.47,0.105],[3.70,0.162],[3.91,0.168],[4.11,0.094],[4.40,0.032],[4.84,0.134],[5.22,-0.036],[5.57,0.015],[5.86,0.089],[6.18,-0.069],[6.44,-0.036],[6.73,0.083],[6.97,0.151],[7.32,-0.036],[7.61,-0.007],[7.93,0.19],[8.19,-0.019],[8.48,-0.086],[8.72,-0.064],[8.95,-0.182],[9.16,0.038],[9.45,-0.177],[9.74,-0.143],[10.03,-0.177],[10.41,-0.253],[10.70,-0.12],[11.05,-0.036],[11.34,-0.148],[11.64,-0.109],[11.93,0.004],[12.22,-0.036],[12.57,-0.086],[12.86,-0.052],[13.09,-0.03],[13.39,-0.098],[13.68,-0.081],[14,-0.069]];

const obs_8761927 = [[0,0.198],[0.15,0.246],[0.35,0.168],[0.58,0.126],[0.87,0.216],[1.08,0.198],[1.31,0.24],[1.52,0.174],[1.75,0.246],[1.95,0.27],[2.19,0.27],[2.45,0.246],[2.68,0.234],[2.97,0.144],[3.27,0.048],[3.47,0.108],[3.79,0.162],[4.00,0.096],[4.29,0.0],[4.64,0.12],[4.93,0.084],[5.37,-0.018],[5.75,0.084],[6.04,0.066],[6.39,-0.06],[6.62,0.06],[7.00,0.162],[7.44,-0.048],[7.73,0.108],[7.93,0.192],[8.22,0.006],[8.52,-0.042],[8.89,0.138],[9.10,0.06],[9.48,-0.114],[9.68,-0.078],[9.83,-0.228],[9.97,-0.12],[10.21,-0.036],[10.47,-0.174],[10.76,-0.084],[11.05,-0.018],[11.52,-0.144],[11.81,-0.084],[12.07,0.012],[12.31,-0.036],[12.60,-0.072],[12.95,0.018],[13.27,-0.06],[13.62,-0.102],[14,-0.066]];
const mod_8761927 = [[0,0.18],[0.35,0.15],[0.64,0.156],[0.93,0.21],[1.22,0.186],[1.52,0.168],[1.72,0.216],[1.95,0.24],[2.25,0.222],[2.54,0.246],[2.77,0.288],[2.97,0.234],[3.27,0.192],[3.65,0.252],[3.91,0.308],[4.14,0.204],[4.37,0.15],[4.81,0.237],[5.10,0.144],[5.40,0.102],[5.89,0.198],[6.18,0.132],[6.42,0.06],[7.00,0.222],[7.35,0.132],[7.64,0.114],[7.93,0.216],[8.22,0.042],[8.60,0.06],[8.95,0.162],[9.24,0.036],[9.54,-0.018],[9.83,-0.012],[10.12,-0.06],[10.41,-0.102],[10.70,-0.042],[11.08,0.078],[11.43,-0.006],[11.72,0.024],[12.10,0.12],[12.39,0.036],[12.74,0.072],[13.04,0.096],[13.47,0.03],[13.77,0.042],[14,0.06]];

const obs_8737138 = [[0,0.305],[0.26,0.015],[0.55,0.286],[0.85,0.208],[1.05,0.286],[1.22,0.16],[1.52,0.383],[1.72,0.179],[1.95,0.334],[2.16,0.199],[2.54,0.383],[2.97,0.063],[3.32,0.393],[3.62,0.373],[4.00,-0.092],[4.43,0.402],[4.64,0.257],[5.02,-0.145],[5.51,0.393],[5.66,0.315],[6.01,-0.262],[6.53,0.16],[6.68,0.596],[7.12,-0.257],[7.61,0.499],[7.84,0.451],[8.14,-0.208],[8.72,0.509],[8.86,0.422],[9.16,-0.208],[9.65,0.412],[9.89,0.199],[10.18,-0.223],[10.62,0.315],[10.85,0.102],[11.14,-0.228],[11.55,0.276],[11.78,0.141],[12.16,-0.199],[12.51,0.102],[12.80,0.082],[13.09,-0.131],[13.47,0.141],[13.68,0.073],[14,0.238]];
const mod_8737138 = [[0,0.519],[0.26,0.325],[0.55,0.383],[0.79,0.354],[1.08,0.46],[1.28,0.354],[1.52,0.402],[1.78,0.383],[2.16,0.509],[2.54,0.557],[2.80,0.412],[3.09,0.431],[3.47,0.557],[3.76,0.509],[4.14,0.257],[4.55,0.499],[4.78,0.422],[5.16,0.189],[5.66,0.451],[5.89,0.334],[6.24,0.16],[6.68,0.548],[6.88,0.402],[7.26,0.199],[7.70,0.509],[7.90,0.412],[8.28,0.189],[8.72,0.49],[9.01,0.383],[9.30,0.189],[9.80,0.567],[10.09,0.373],[10.41,0.296],[10.76,0.46],[11.05,0.325],[11.34,0.141],[11.87,0.393],[12.13,0.286],[12.51,0.267],[12.71,0.238],[13.01,0.548],[13.39,0.344],[13.68,0.296],[14,0.373]];

const obs_8737048 = [[0,0.296],[0.14,0.138],[0.27,0.03],[0.45,0.178],[0.54,0.257],[0.74,0.207],[0.89,0.217],[1.03,0.277],[1.25,0.158],[1.47,0.37],[1.61,0.336],[1.76,0.178],[1.91,0.267],[2.05,0.316],[2.25,0.237],[2.49,0.356],[2.67,0.296],[2.78,0.158],[3.00,0.059],[3.22,0.247],[3.41,0.375],[3.66,0.217],[3.85,0.02],[4.00,-0.094],[4.29,0.277],[4.53,0.37],[4.82,0.079],[5.05,-0.138],[5.26,0.158],[5.51,0.385],[5.75,0.227],[6.04,-0.252],[6.28,0.059],[6.48,0.336],[6.65,0.617],[6.87,0.306],[7.16,-0.237],[7.45,0.296],[7.69,0.474],[7.89,0.306],[8.18,-0.178],[8.42,0.217],[8.74,0.533],[8.91,0.286],[9.25,-0.183],[9.49,0.178],[9.67,0.43],[9.83,0.257],[10.19,-0.193],[10.47,0.138],[10.76,0.375],[10.95,0.158],[11.20,-0.202],[11.49,0.059],[11.83,0.207],[11.97,0.168],[12.20,-0.138],[12.56,0.089],[12.85,0.188],[13.00,0.079],[13.19,-0.104],[13.48,0.128],[13.68,0.079],[14,0.217]];
const mod_8737048 = [[0,0.39],[0.11,0.217],[0.25,0.163],[0.45,0.286],[0.64,0.277],[0.74,0.207],[0.91,0.257],[1.03,0.198],[1.23,0.153],[1.42,0.311],[1.57,0.267],[1.76,0.207],[1.93,0.321],[2.10,0.341],[2.25,0.296],[2.42,0.489],[2.54,0.454],[2.64,0.331],[2.70,0.365],[2.83,0.257],[3.03,0.331],[3.15,0.336],[3.29,0.286],[3.44,0.464],[3.66,0.375],[3.85,0.148],[4.07,0.099],[4.34,0.405],[4.48,0.425],[4.73,0.316],[4.87,0.158],[5.06,-0.005],[5.31,0.247],[5.65,0.39],[5.89,0.099],[6.06,-0.069],[6.38,0.306],[6.58,0.375],[6.74,0.519],[6.87,0.326],[7.16,-0.03],[7.45,0.257],[7.67,0.454],[7.89,0.336],[8.13,-0.025],[8.42,0.286],[8.72,0.44],[8.91,0.257],[9.28,0.01],[9.49,0.257],[9.76,0.533],[9.93,0.277],[10.19,-0.04],[10.42,0.217],[10.81,0.42],[10.95,0.237],[11.23,-0.074],[11.44,0.104],[11.59,0.089],[11.88,0.351],[12.02,0.158],[12.22,-0.01],[12.51,0.188],[12.66,0.158],[12.92,0.272],[13.09,0.119],[13.29,0.035],[13.46,0.262],[13.68,0.188],[13.92,0.336],[14,0.306]];

// Mobile Bay stations (read coarsely from the overview)
const obs_8736897 = [[0,0.25],[0.27,0.05],[0.5,0.22],[0.75,0.18],[1.03,0.26],[1.25,0.14],[1.47,0.33],[1.76,0.17],[2.05,0.30],[2.25,0.22],[2.49,0.34],[2.95,0.04],[3.41,0.36],[3.98,-0.08],[4.5,0.38],[5.03,-0.13],[5.5,0.40],[6.02,-0.22],[6.62,0.50],[7.14,-0.22],[7.68,0.47],[8.16,-0.18],[8.72,0.48],[9.23,-0.18],[9.68,0.42],[10.18,-0.17],[10.76,0.36],[11.19,-0.17],[11.83,0.22],[12.2,-0.10],[12.85,0.20],[13.19,-0.06],[13.5,0.12],[14,0.2]];
const mod_8736897 = [[0,0.33],[0.27,0.12],[0.5,0.27],[0.75,0.2],[1.03,0.22],[1.25,0.16],[1.45,0.3],[1.76,0.2],[2.1,0.33],[2.42,0.45],[2.83,0.25],[3.44,0.44],[4.05,0.08],[4.45,0.42],[5.05,0.0],[5.6,0.4],[6.06,-0.06],[6.72,0.52],[7.16,-0.04],[7.67,0.46],[8.13,-0.03],[8.72,0.45],[9.27,0.0],[9.76,0.5],[10.19,-0.04],[10.8,0.42],[11.23,-0.07],[11.88,0.35],[12.22,0.0],[12.92,0.27],[13.29,0.04],[13.92,0.32],[14,0.3]];
const obs_8735523 = [[0,0.15],[0.3,-0.1],[0.6,0.2],[0.8,0.12],[1.05,0.2],[1.3,0.0],[1.55,0.3],[1.9,0.05],[2.5,0.32],[3.0,-0.1],[3.45,0.35],[4.0,-0.2],[4.5,0.4],[5.05,-0.28],[5.55,0.45],[6.05,-0.38],[6.6,0.5],[7.15,-0.38],[7.65,0.5],[8.15,-0.35],[8.7,0.48],[9.25,-0.35],[9.7,0.45],[10.2,-0.3],[10.75,0.4],[11.2,-0.28],[11.8,0.3],[12.2,-0.2],[12.85,0.22],[13.2,-0.12],[13.6,0.15],[14,0.18]];
const mod_8735523 = [[0,0.2],[0.3,0.0],[0.6,0.25],[0.8,0.18],[1.05,0.22],[1.3,0.08],[1.55,0.32],[1.9,0.1],[2.5,0.38],[3.0,0.0],[3.45,0.4],[4.0,-0.1],[4.5,0.42],[5.05,-0.18],[5.55,0.45],[6.05,-0.25],[6.65,0.5],[7.15,-0.25],[7.65,0.48],[8.15,-0.22],[8.7,0.47],[9.25,-0.2],[9.75,0.48],[10.2,-0.18],[10.8,0.42],[11.2,-0.15],[11.85,0.35],[12.2,-0.08],[12.9,0.3],[13.25,0.0],[13.9,0.3],[14,0.28]];
const obs_8735391 = [[0,0.2],[0.3,-0.05],[0.6,0.22],[0.8,0.15],[1.05,0.22],[1.3,0.02],[1.55,0.32],[1.9,0.08],[2.5,0.35],[3.0,-0.08],[3.45,0.38],[4.0,-0.18],[4.5,0.42],[5.05,-0.25],[5.55,0.46],[6.05,-0.35],[6.62,0.55],[7.15,-0.36],[7.68,0.52],[8.15,-0.33],[8.72,0.5],[9.25,-0.32],[9.7,0.46],[10.2,-0.28],[10.76,0.42],[11.2,-0.26],[11.83,0.32],[12.2,-0.18],[12.85,0.25],[13.2,-0.1],[13.6,0.18],[14,0.2]];
const mod_8735391 = [[0,0.25],[0.3,0.02],[0.6,0.26],[0.8,0.2],[1.05,0.24],[1.3,0.1],[1.55,0.34],[1.9,0.12],[2.5,0.4],[3.0,0.02],[3.45,0.42],[4.0,-0.08],[4.5,0.44],[5.05,-0.16],[5.55,0.47],[6.05,-0.24],[6.65,0.52],[7.15,-0.24],[7.65,0.5],[8.15,-0.2],[8.7,0.48],[9.25,-0.18],[9.75,0.5],[10.2,-0.16],[10.8,0.44],[11.2,-0.13],[11.85,0.37],[12.2,-0.06],[12.9,0.32],[13.25,0.02],[13.9,0.32],[14,0.3]];

// Tampa Bay stations (read coarsely from the overview)
const obs_8726667 = [[0,0.2],[0.5,-0.3],[1,0.4],[1.5,-0.3],[2,0.4],[2.5,-0.3],[3,0.45],[3.5,-0.35],[4,0.5],[4.5,-0.4],[5,0.5],[5.5,-0.4],[6,0.5],[6.5,-0.4],[7,0.5],[7.5,-0.4],[8,0.5],[8.5,-0.4],[9,0.5],[9.5,-0.35],[10,0.45],[10.5,-0.3],[11,0.4],[11.5,-0.3],[12,0.4],[12.5,-0.3],[13,0.4],[13.5,-0.3],[14,0.3]];
const mod_8726667 = [[0,0.2],[0.5,-0.25],[1,0.35],[1.5,-0.25],[2,0.4],[2.5,-0.25],[3,0.4],[3.5,-0.3],[4,0.45],[4.5,-0.35],[5,0.45],[5.5,-0.35],[6,0.45],[6.5,-0.35],[7,0.45],[7.5,-0.35],[8,0.45],[8.5,-0.35],[9,0.45],[9.5,-0.3],[10,0.4],[10.5,-0.25],[11,0.35],[11.5,-0.25],[12,0.35],[12.5,-0.25],[13,0.35],[13.5,-0.25],[14,0.25]];
const obs_8726607 = [[0,0.2],[0.5,-0.3],[1,0.4],[1.5,-0.3],[2,0.4],[2.5,-0.3],[3,0.45],[3.5,-0.35],[4,0.5],[4.5,-0.4],[5,0.5],[5.5,-0.4],[6,0.5],[6.5,-0.4],[7,0.5],[7.5,-0.4],[8,0.5],[8.5,-0.4],[9,0.5],[9.5,-0.35],[10,0.45],[10.5,-0.3],[11,0.4],[11.5,-0.3],[12,0.4],[12.5,-0.3],[13,0.4],[13.5,-0.3],[14,0.3]];
const mod_8726607 = [[0,0.2],[0.5,-0.25],[1,0.35],[1.5,-0.25],[2,0.4],[2.5,-0.25],[3,0.4],[3.5,-0.3],[4,0.45],[4.5,-0.35],[5,0.45],[5.5,-0.35],[6,0.45],[6.5,-0.35],[7,0.45],[7.5,-0.35],[8,0.45],[8.5,-0.35],[9,0.45],[9.5,-0.3],[10,0.4],[10.5,-0.25],[11,0.35],[11.5,-0.25],[12,0.35],[12.5,-0.25],[13,0.35],[13.5,-0.25],[14,0.25]];

const obsSeries = [obs_8779770,obs_8779280,obs_8775792,obs_8775296,obs_8775244,obs_8774770,
 obs_8774230,obs_8773701,obs_8773259,obs_8773146,obs_8773037,obs_8771486,
 obs_8771013,obs_8770777,obs_8770613,obs_8770570,obs_8770520,obs_8770475,
 obs_8767961,obs_8767816,obs_8764044,obs_8762483,obs_8761927,obs_8737138,
 obs_8737048,obs_8736897,obs_8735523,obs_8735391,obs_8726667,obs_8726607];
const modSeries = [mod_8779770,mod_8779280,mod_8775792,mod_8775296,mod_8775244,mod_8774770,
 mod_8774230,mod_8773701,mod_8773259,mod_8773146,mod_8773037,mod_8771486,
 mod_8771013,mod_8770777,mod_8770613,mod_8770570,mod_8770520,mod_8770475,
 mod_8767961,mod_8767816,mod_8764044,mod_8762483,mod_8761927,mod_8737138,
 mod_8737048,mod_8736897,mod_8735523,mod_8735391,mod_8726667,mod_8726607];

// ---------------- layout ----------------
const nCols = 6;
const left0 = 78, colPitch = 1299.3, axW = 1193.7;
const top0 = 37, rowPitch = 387, axH = 326;
const tickFont = 13.9, titleFont = 18;
const obsColor = "#ff0000", modColor = "#0000ff";
const obsDash = "12.8,3.2,2,3.2";

const svg = d3.select("#chart");
svg.append("rect").attr("width",7800).attr("height",1950).attr("fill","#fff");

const toDate = d => new Date(startDay + d * 86400000);
const fmtFirst = d3.utcFormat("%d/%b, %Y"), fmtOther = d3.utcFormat("%d/%b");
const minus = s => s.replace("-", "\u2212");

stationTitles.forEach((title, i) => {
  const col = i % nCols, row = Math.floor(i / nCols);
  const gx = left0 + col * colPitch, gy = top0 + row * rowPitch;
  const g = svg.append("g").attr("transform", `translate(${gx},${gy})`);
  const obs = obsSeries[i], mod = modSeries[i];
  const vals = obs.concat(mod).map(d => d[1]);
  let [lo, hi] = d3.extent(vals);
  const pad = (hi - lo) * 0.05;
  lo -= pad; hi += pad;

  const x = d3.scaleUtc().domain([new Date(startDay), new Date(endDay)]).range([0, axW]);
  const y = d3.scaleLinear().domain([lo, hi]).range([axH, 0]);

  const clipId = "clip" + i;
  g.append("clipPath").attr("id", clipId).append("rect").attr("width", axW).attr("height", axH);

  const line = d3.line().x(d => x(toDate(d[0]))).y(d => y(d[1])).curve(d3.curveMonotoneX);
  const plot = g.append("g").attr("clip-path", `url(#${clipId})`);
  if (obs.length) plot.append("path").datum(obs).attr("d", line).attr("fill","none")
    .attr("stroke", obsColor).attr("stroke-width", 2).attr("stroke-dasharray", obsDash)
    .attr("stroke-linejoin","round");
  plot.append("path").datum(mod).attr("d", line).attr("fill","none")
    .attr("stroke", modColor).attr("stroke-width", 1).attr("stroke-linejoin","round");

  const step = yTickSteps[i];
  const k0 = Math.ceil(lo / step - 1e-9), k1 = Math.floor(hi / step + 1e-9);
  const yTicks = d3.range(k0, k1 + 1).map(k => +(k * step).toFixed(4));
  const dec = step >= 0.1 - 1e-9 ? 1 : 2;
  const xAxis = d3.axisBottom(x).tickValues(xTickDays.map(toDate)).tickSize(4.9).tickPadding(4.9)
    .tickFormat((d, j) => j === 0 ? fmtFirst(d) : fmtOther(d));
  const yAxis = d3.axisLeft(y).tickValues(yTicks).tickSize(4.9).tickPadding(4.9)
    .tickFormat(v => minus(v.toFixed(dec)));
  const gxA = g.append("g").attr("transform", `translate(0,${axH})`).call(xAxis);
  const gyA = g.append("g").call(yAxis);
  [gxA, gyA].forEach(a => {
    a.select(".domain").remove();
    a.selectAll("line").attr("stroke", "#000").attr("stroke-width", 1.1);
    a.selectAll("text").attr("font-size", tickFont).attr("font-family", "DejaVu Sans").attr("fill","#000");
  });
  g.append("rect").attr("width", axW).attr("height", axH).attr("fill", "none")
    .attr("stroke", "#000").attr("stroke-width", 1.1);

  g.append("text").attr("x", axW / 2).attr("y", -8.3).attr("text-anchor", "middle")
    .attr("font-size", titleFont).text(title);

  if (col % 2 === 0) {
    let maxW = 0;
    gyA.selectAll("text").each(function(){ maxW = Math.max(maxW, this.getComputedTextLength()); });
    const lx = -(9.8 + maxW + 5.6 + 3);
    g.append("text").attr("transform", `translate(${lx},${axH/2}) rotate(-90)`)
      .attr("text-anchor", "middle").attr("font-size", tickFont).text("Elevation (m)");
  }

  if (i === 0) {
    const lg = g.append("g").attr("transform", `translate(${axW - 7 - 112},7)`);
    lg.append("rect").attr("width", 112).attr("height", 46).attr("rx", 2.8)
      .attr("fill", "#fff").attr("fill-opacity", 0.8).attr("stroke", "#cccccc").attr("stroke-width", 1);
    const rows = [{c: obsColor, w: 2, dash: obsDash, y: 12}, {c: modColor, w: 1, dash: null, y: 33}];
    rows.forEach((r, j) => {
      const ln = lg.append("line").attr("x1", 6).attr("x2", 34).attr("y1", r.y).attr("y2", r.y)
        .attr("stroke", r.c).attr("stroke-width", r.w);
      if (r.dash) ln.attr("stroke-dasharray", r.dash);
      lg.append("text").attr("x", 46).attr("y", r.y).attr("dy", "0.35em")
        .attr("font-size", tickFont).text(seriesNames[j]);
    });
  }
});
</script>
</body></html>
